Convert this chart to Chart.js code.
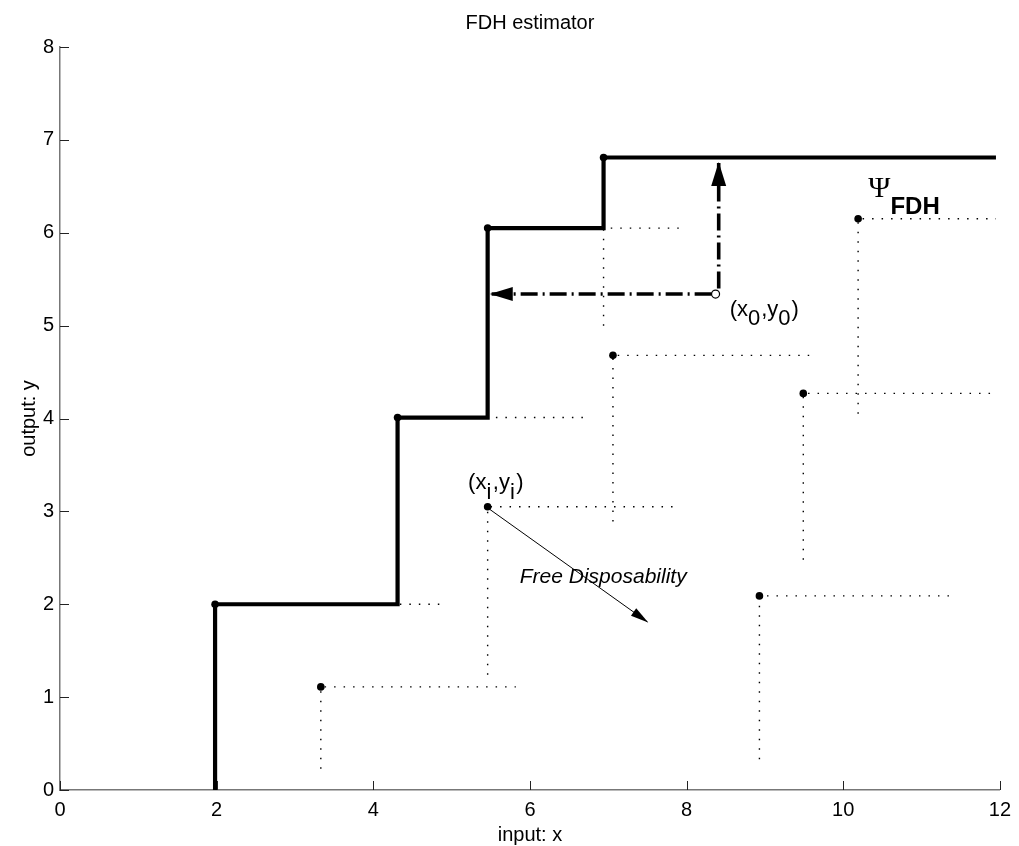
<!DOCTYPE html>
<html>
<head>
<meta charset="utf-8">
<title>FDH estimator</title>
<script src="https://cdn.jsdelivr.net/npm/chart.js@4.4.1/dist/chart.umd.min.js"></script>
<style>
  html, body { margin: 0; padding: 0; background: #fff; }
  #wrap { width: 1019px; height: 846px; }
</style>
</head>
<body>
<div id="wrap"><canvas id="fdhChart" width="1019" height="846"></canvas></div>
<script>
// ==========================
// DATA
// ==========================
const xTicks = [0, 2, 4, 6, 8, 10, 12];
const yTicks = [0, 1, 2, 3, 4, 5, 6, 7, 8];

// observations (x_i, y_i)
const obsX = [1.98, 4.31, 5.46, 6.94, 3.33, 5.46, 7.06, 8.93, 9.49, 10.19];
const obsY = [2.00, 4.01, 6.05, 6.81, 1.11, 3.05, 4.68, 2.09, 4.27, 6.15];
// where each dotted line stops (right end of horizontal, bottom of vertical)
const dotEndX = [4.85, 6.76, 7.94, 11.95, 5.82, 7.90, 9.57, 11.41, 11.95, 11.95];
const dotEndY = [0.00, 2.00, 4.00, 5.00, 0.23, 1.24, 2.89, 0.33, 2.48, 4.05];

// FDH frontier, drawn as a staircase
const frontierX = [1.98, 1.98, 4.31, 5.46, 6.94, 11.95];
const frontierY = [0.00, 2.00, 4.01, 6.05, 6.81, 6.81];

// unit under evaluation
const x0 = [8.37];
const y0 = [5.34];

// arrows, tail -> tip
const arrowTailX = [8.32, 8.41, 5.49];
const arrowTailY = [5.34, 5.40, 3.02];
const arrowTipX  = [5.50, 8.41, 7.50];
const arrowTipY  = [5.34, 6.75, 1.81];

// text notes ( _x or _{xyz} = subscript )
const noteText = ['(x_i,y_i)', '(x_0,y_0)', 'Free Disposability', 'Ψ_{FDH}'];
const noteX = [5.21, 8.55, 5.87, 10.32];
const noteY = [3.24, 5.10, 2.23, 6.38];

// ==========================
// STYLES
// ==========================
const FONT = "'Liberation Sans', Arial, Helvetica, sans-serif";
Chart.defaults.font.family = FONT;
Chart.defaults.color = '#000';

const noteStyle = [
    { font: '22px ' + FONT, subFont: '22px ' + FONT, drop: 10, gap: 1.5 },
    { font: '22px ' + FONT, subFont: '22px ' + FONT, drop: 9, gap: 1 },
    { font: 'italic 21px ' + FONT, subFont: 'italic 21px ' + FONT, drop: 0, gap: 0 },
    { font: "30px 'Liberation Serif', 'DejaVu Serif', serif", subFont: 'bold 24px ' + FONT, drop: 17, gap: 0 }
];
const headLen  = [22, 23, 17];
const headHalf = [7, 7.5, 4.5];

// ==========================
// DATASETS
// ==========================
const dottedSets = obsX.map((x, i) => ({
    data: [{x: x, y: dotEndY[i]}, {x: x, y: obsY[i]}, {x: dotEndX[i], y: obsY[i]}],
    showLine: true,
    borderColor: '#000',
    borderWidth: 1.4,
    borderDash: [1.5, 8],
    pointRadius: 0
}));

const frontierSet = {
    data: frontierX.map((x, i) => ({x: x, y: frontierY[i]})),
    showLine: true,
    stepped: true,
    borderColor: '#000',
    borderWidth: 4.2,
    borderJoinStyle: 'miter',
    pointRadius: 0
};

const arrowSets = arrowTailX.map((x, i) => ({
    data: [{x: x, y: arrowTailY[i]}, {x: arrowTipX[i], y: arrowTipY[i]}],
    showLine: true,
    borderColor: '#000',
    borderWidth: i < 2 ? 3.6 : 1,
    borderDash: i < 2 ? [17, 5, 2, 5] : [],
    pointRadius: 0
}));

const obsSet = {
    data: obsX.map((x, i) => ({x: x, y: obsY[i]})),
    showLine: false,
    pointRadius: 3.8,
    pointBackgroundColor: '#000',
    pointBorderWidth: 0
};

const x0Set = {
    data: x0.map((x, i) => ({x: x, y: y0[i]})),
    showLine: false,
    pointRadius: 4,
    pointBackgroundColor: '#fff',
    pointBorderColor: '#000',
    pointBorderWidth: 1.2
};

// ==========================
// PLUGIN: arrow heads, notes, inward ticks
// ==========================
function drawNote(ctx, text, px, py, st){
    const parts = text.split(/_(\{[^}]*\}|.)/);
    let x = px;
    parts.forEach((p, i) => {
        if(!p) return;
        const sub = i % 2 === 1;
        const t = sub ? p.replace(/[{}]/g, '') : p;
        ctx.font = sub ? st.subFont : st.font;
        ctx.fillText(t, x, sub ? py + st.drop : py);
        x += ctx.measureText(t).width + (sub ? st.gap : 0);
    });
}

const extras = {
    id: 'fdhExtras',
    afterDatasetsDraw(chart){
        const ctx = chart.ctx;
        const sx = chart.scales.x, sy = chart.scales.y;
        ctx.save();
        ctx.fillStyle = '#000';
        // arrow heads
        arrowTipX.forEach((tx, i) => {
            const px = sx.getPixelForValue(tx), py = sy.getPixelForValue(arrowTipY[i]);
            const qx = sx.getPixelForValue(arrowTailX[i]), qy = sy.getPixelForValue(arrowTailY[i]);
            const len = Math.hypot(px - qx, py - qy);
            const ux = (px - qx) / len, uy = (py - qy) / len;
            const bx = px - ux * headLen[i], by = py - uy * headLen[i];
            ctx.beginPath();
            ctx.moveTo(px + ux, py + uy);
            ctx.lineTo(bx - uy * headHalf[i], by + ux * headHalf[i]);
            ctx.lineTo(bx + uy * headHalf[i], by - ux * headHalf[i]);
            ctx.closePath();
            ctx.fill();
        });
        // notes
        ctx.textAlign = 'left';
        ctx.textBaseline = 'alphabetic';
        noteText.forEach((t, i) => {
            drawNote(ctx, t, sx.getPixelForValue(noteX[i]), sy.getPixelForValue(noteY[i]), noteStyle[i]);
        });
        ctx.restore();
    },
    afterDraw(chart){
        const ctx = chart.ctx;
        const sx = chart.scales.x, sy = chart.scales.y;
        const area = chart.chartArea;
        ctx.save();
        ctx.strokeStyle = '#222';
        ctx.lineWidth = 1;
        ctx.beginPath();
        sx.ticks.forEach(t => {
            const p = Math.round(sx.getPixelForValue(t.value)) + 0.5;
            ctx.moveTo(p, area.bottom);
            ctx.lineTo(p, area.bottom - 9);
        });
        sy.ticks.forEach(t => {
            const p = Math.round(sy.getPixelForValue(t.value)) + 0.5;
            ctx.moveTo(area.left, p);
            ctx.lineTo(area.left + 9, p);
        });
        ctx.stroke();
        ctx.restore();
    }
};

// ==========================
// CHART
// ==========================
const tickFont = { family: FONT, size: 20 };

new Chart(document.getElementById('fdhChart'), {
    type: 'scatter',
    data: {
        datasets: [...dottedSets, frontierSet, ...arrowSets, obsSet, x0Set]
    },
    options: {
        responsive: false,
        animation: false,
        events: [],
        layout: { padding: { left: 0, right: 15, top: 0, bottom: 0 } },
        plugins: {
            legend: { display: false },
            tooltip: { enabled: false },
            title: {
                display: true,
                text: 'FDH estimator',
                color: '#000',
                fullSize: false,
                font: { family: FONT, size: 20, weight: 'normal', lineHeight: 1.2 },
                padding: { top: 11, bottom: 12 }
            }
        },
        scales: {
            x: {
                type: 'linear',
                min: 0, max: 12,
                afterBuildTicks: s => { s.ticks = xTicks.map(v => ({ value: v })); },
                afterFit: s => { s.height = 56; },
                ticks: { color: '#000', font: tickFont, padding: 8, maxRotation: 0, autoSkip: false },
                grid: { drawOnChartArea: false, drawTicks: false },
                border: { color: '#777', width: 1.5 },
                title: {
                    display: true, text: 'input: x', color: '#000',
                    font: { family: FONT, size: 20, lineHeight: 1 },
                    padding: { top: 0, bottom: 1 }
                }
            },
            y: {
                type: 'linear',
                min: 0, max: 8,
                afterBuildTicks: s => { s.ticks = yTicks.map(v => ({ value: v })); },
                afterFit: s => { s.width = 60; },
                ticks: { color: '#000', font: tickFont, padding: 6, autoSkip: false },
                grid: { drawOnChartArea: false, drawTicks: false },
                border: { color: '#777', width: 1.5 },
                title: {
                    display: true, text: 'output: y', color: '#000',
                    font: { family: FONT, size: 20, lineHeight: 1 },
                    padding: { top: 19, bottom: 0 }
                }
            }
        }
    },
    plugins: [extras]
});
</script>
</body>
</html>
